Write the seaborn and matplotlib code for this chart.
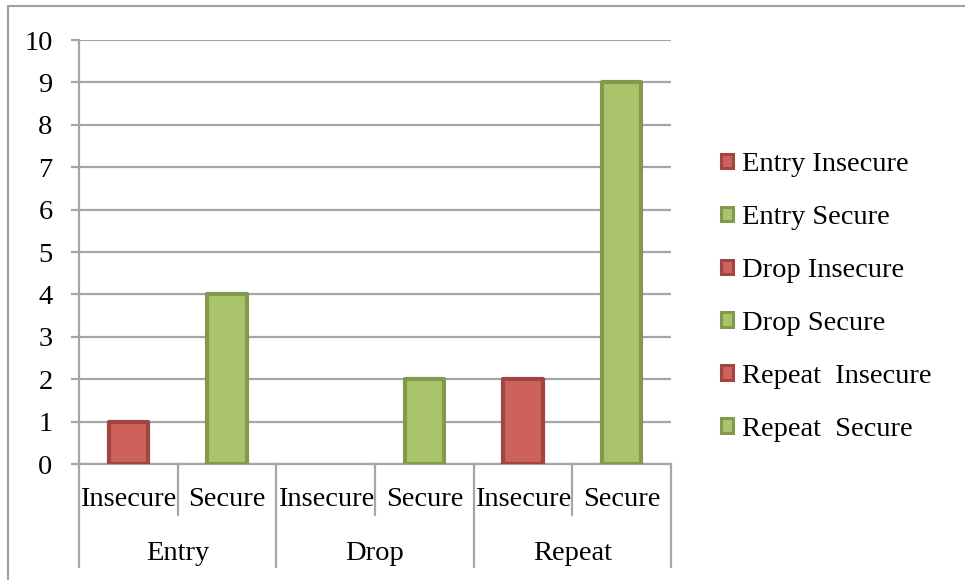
import matplotlib
matplotlib.use("Agg")
import matplotlib.pyplot as plt
import matplotlib.patches as mpatches
from matplotlib.lines import Line2D
import seaborn as sns
import pandas as pd

# Chart data
groups = ["Entry", "Drop", "Repeat"]
statuses = ["Insecure", "Secure"]
series = ["Entry Insecure", "Entry Secure", "Drop Insecure",
          "Drop Secure", "Repeat  Insecure", "Repeat  Secure"]
values = [1, 4, 0, 2, 2, 9]
y_ticks = [0, 1, 2, 3, 4, 5, 6, 7, 8, 9, 10]

RED_FILL, RED_EDGE = "#CD625D", "#A04541"
GREEN_FILL, GREEN_EDGE = "#AAC46B", "#84994D"
GRID = "#A6A6A6"

sns.set_theme(style="white")
plt.rcParams["font.family"] = ["Liberation Serif", "DejaVu Serif"]
FS = 20.5

slots = [f"{g} {s}" for g in groups for s in statuses]
df = pd.DataFrame({"slot": slots, "series": series, "value": values})
fills = {name: (RED_FILL if "Insecure" in name else GREEN_FILL) for name in series}
edges = {name: (RED_EDGE if "Insecure" in name else GREEN_EDGE) for name in series}

fig = plt.figure(figsize=(9.65, 5.8), dpi=100)
ax = fig.add_axes([79 / 965, 116 / 580, 592 / 965, 424 / 580])

sns.barplot(data=df, x="slot", y="value", hue="series", hue_order=series,
            order=slots, palette=fills, dodge=False, width=0.4,
            legend=False, ax=ax, saturation=1)

# darker outline on each bar, matching its series
for name, cont in zip(series, ax.containers):
    for bar in cont:
        if bar.get_height() == 0:
            bar.set_linewidth(0)
        else:
            bar.set_edgecolor(edges[name])
            bar.set_linewidth(3.0)
            bar.set_joinstyle("round")
        bar.set_zorder(3)

ax.set_ylim(0, 10)
ax.set_xlim(-0.5, len(slots) - 0.5)
ax.set_yticks(y_ticks)
ax.set_yticklabels([str(t) for t in y_ticks], fontsize=FS, color="black")
ax.tick_params(axis="y", length=6, width=1.6, color=GRID, pad=13, left=True)
ax.tick_params(axis="x", bottom=False, labelbottom=False)
ax.set_xlabel("")
ax.set_ylabel("")
ax.yaxis.grid(True, color=GRID, linewidth=1.6)
ax.set_axisbelow(True)
for side in ["top", "right"]:
    ax.spines[side].set_visible(False)
for side in ["left", "bottom"]:
    ax.spines[side].set_color(GRID)
    ax.spines[side].set_linewidth(1.6)

# two-level category axis below the plot
trans = ax.get_xaxis_transform()
for i, slot in enumerate(slots):
    ax.text(i, -0.084, statuses[i % 2], transform=trans, ha="center",
            va="center", fontsize=FS, color="black")
for j, g in enumerate(groups):
    ax.text(2 * j + 0.5, -0.211, g, transform=trans, ha="center",
            va="center", fontsize=FS, color="black")
for k in range(len(slots) + 1):
    xpos = k - 0.5
    bottom = -0.243 if k % 2 == 0 else -0.120
    ax.plot([xpos, xpos], [0, bottom], transform=trans, color=GRID,
            linewidth=1.6, clip_on=False)

# legend
handles = [mpatches.Patch(facecolor=fills[n], edgecolor=edges[n], linewidth=2.2)
           for n in series]
leg = fig.legend(handles=handles, labels=series, loc="center left",
                 bbox_to_anchor=(710 / 965, 1 - 297 / 580), frameon=False,
                 fontsize=FS, handlelength=0.42, handleheight=0.42,
                 handletextpad=0.3, labelspacing=0.98, borderaxespad=0,
                 labelcolor="black")

# outer chart border (left and top edges)
fig.add_artist(Line2D([7.5 / 965, 7.5 / 965], [0, 1 - 5.5 / 580],
                      transform=fig.transFigure, color="#A0A0A0", linewidth=1.5))
fig.add_artist(Line2D([7.5 / 965, 1], [1 - 5.5 / 580, 1 - 5.5 / 580],
                      transform=fig.transFigure, color="#A0A0A0", linewidth=1.5))

fig.savefig("out.png", dpi=100, facecolor="white")
